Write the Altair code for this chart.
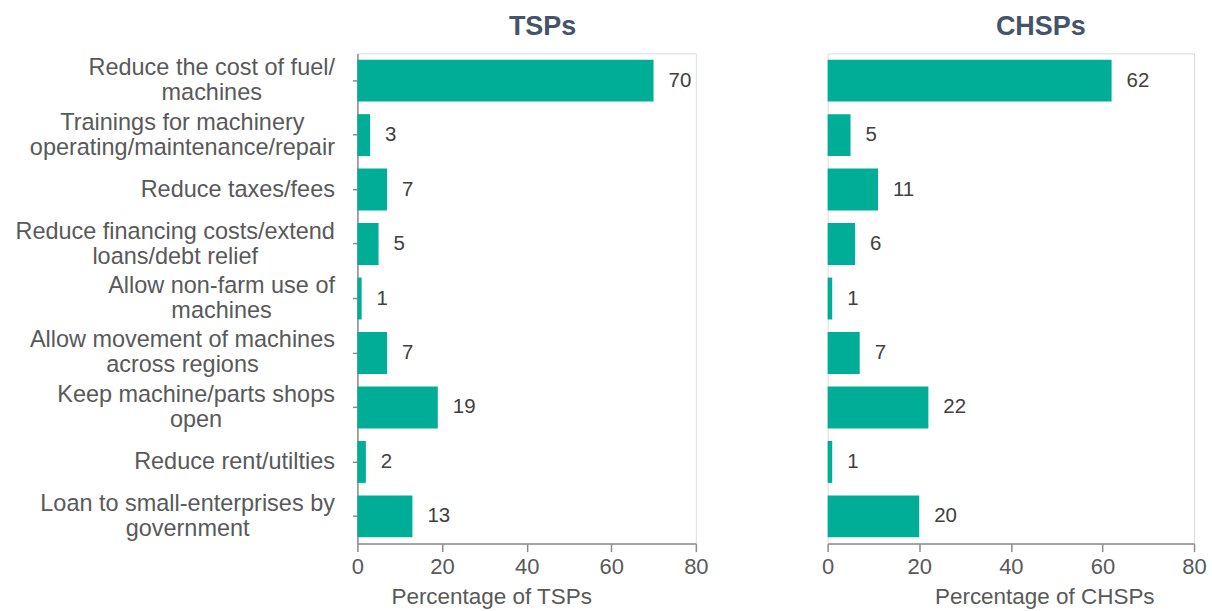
import altair as alt
import pandas as pd

# Survey responses: requested support measures (percent of respondents)
categories = [
    "Reduce the cost of fuel/\nmachines",
    "Trainings for machinery\noperating/maintenance/repair",
    "Reduce taxes/fees",
    "Reduce financing costs/extend\nloans/debt relief",
    "Allow non-farm use of\nmachines",
    "Allow movement of machines\nacross regions",
    "Keep machine/parts shops\nopen",
    "Reduce rent/utilties",
    "Loan to small-enterprises by\ngovernment",
]
tsp_values = [70, 3, 7, 5, 1, 7, 19, 2, 13]
chsp_values = [62, 5, 11, 6, 1, 7, 22, 1, 20]
x_ticks = [0, 20, 40, 60, 80]

FONT = "Liberation Sans"
BAR = "#00AE98"
GREY_TEXT = "#595959"
AXIS_GREY = "#8C8C8C"
LABEL_SIZE = 23.5
LINE_H = 25
LABEL_GAP = 18

# Advance widths (per 1000 em) of the sans-serif face, used to centre the
# lines of each category label inside a right-aligned block.
ADVANCE = {
    " ": 278, "/": 278, "-": 333,
    "a": 556, "b": 556, "c": 500, "d": 556, "e": 556, "f": 278, "g": 556,
    "h": 556, "i": 222, "j": 222, "k": 500, "l": 222, "m": 833, "n": 556,
    "o": 556, "p": 556, "q": 556, "r": 333, "s": 500, "t": 278, "u": 556,
    "v": 500, "w": 722, "x": 500, "y": 500, "z": 500,
    "A": 667, "K": 667, "L": 556, "R": 722, "T": 611,
}


def block_width(label):
    lines = label.split("\n")
    return max(sum(ADVANCE.get(ch, 556) for ch in ln) for ln in lines) * LABEL_SIZE / 1000


def label_padding():
    conds = []
    for cat in categories:
        first = cat.split("\n")[0]
        conds.append({
            "test": f"indexof(datum.value, '{first}') == 0",
            "value": round(LABEL_GAP + block_width(cat) / 2, 1),
        })
    return {"condition": conds, "value": LABEL_GAP}


def panel(values, group, width, show_y, title_dx, axis_title_x):
    df = pd.DataFrame({"category": categories, "value": values})
    y_scale = alt.Scale(paddingInner=0.23, paddingOuter=0.115)
    if show_y:
        y_axis = alt.Axis(
            title=None,
            labelExpr="split(datum.label, '\\n')",
            labelFontSize=LABEL_SIZE,
            labelLineHeight=LINE_H,
            labelColor=GREY_TEXT,
            labelAlign="center",
            labelPadding=label_padding(),
            labelLimit=400,
            # two-line labels are lifted by half a line so both lines centre on the tick
            labelOffset={
                "condition": {"test": "indexof(datum.label, '\\n') >= 0", "value": -LINE_H / 2},
                "value": 0,
            },
            tickSize=5,
            tickColor=AXIS_GREY,
            tickWidth=1.5,
            domainColor=AXIS_GREY,
            domainWidth=1.5,
        )
        y = alt.Y("category:N", sort=categories, scale=y_scale, axis=y_axis)
    else:
        y = alt.Y("category:N", sort=categories, scale=y_scale, axis=None)

    x = alt.X(
        "value:Q",
        scale=alt.Scale(domain=[0, 80], nice=False),
        axis=alt.Axis(
            values=x_ticks,
            grid=False,
            title=f"Percentage of {group}",
            titleFontSize=22.5,
            titleFontWeight="normal",
            titleColor=GREY_TEXT,
            titleX=axis_title_x,
            titlePadding=8,
            labelFontSize=22,
            labelColor=GREY_TEXT,
            labelPadding=5,
            labelFlush=False,
            tickSize=8,
            tickColor=AXIS_GREY,
            tickWidth=1.5,
            domainColor=AXIS_GREY,
            domainWidth=1.5,
        ),
    )

    base = alt.Chart(df)
    bars = base.mark_bar(color=BAR).encode(x=x, y=y)
    labels = base.mark_text(
        align="left", baseline="middle", dx=15, fontSize=20.5, color="#404040", font=FONT
    ).encode(x=x, y=y, text=alt.Text("value:Q"))

    return alt.layer(bars, labels).properties(
        width=width,
        height=491,
        title=alt.TitleParams(
            group,
            fontSize=27,
            fontWeight="bold",
            color="#44546A",
            font=FONT,
            anchor="middle",
            dx=title_dx,
            offset=12,
        ),
    )


left = panel(tsp_values, "TSPs", 339, True, 16, 134)
right = panel(chsp_values, "CHSPs", 367, False, 30, 217)

chart = (
    alt.hconcat(left, right, spacing=112)
    .properties(padding={"left": 14, "top": 12, "right": 5, "bottom": 5})
    .configure_view(stroke=None)
    .configure(font=FONT)
)

chart.save("out.html", embed_options={"renderer": "svg", "actions": False})
